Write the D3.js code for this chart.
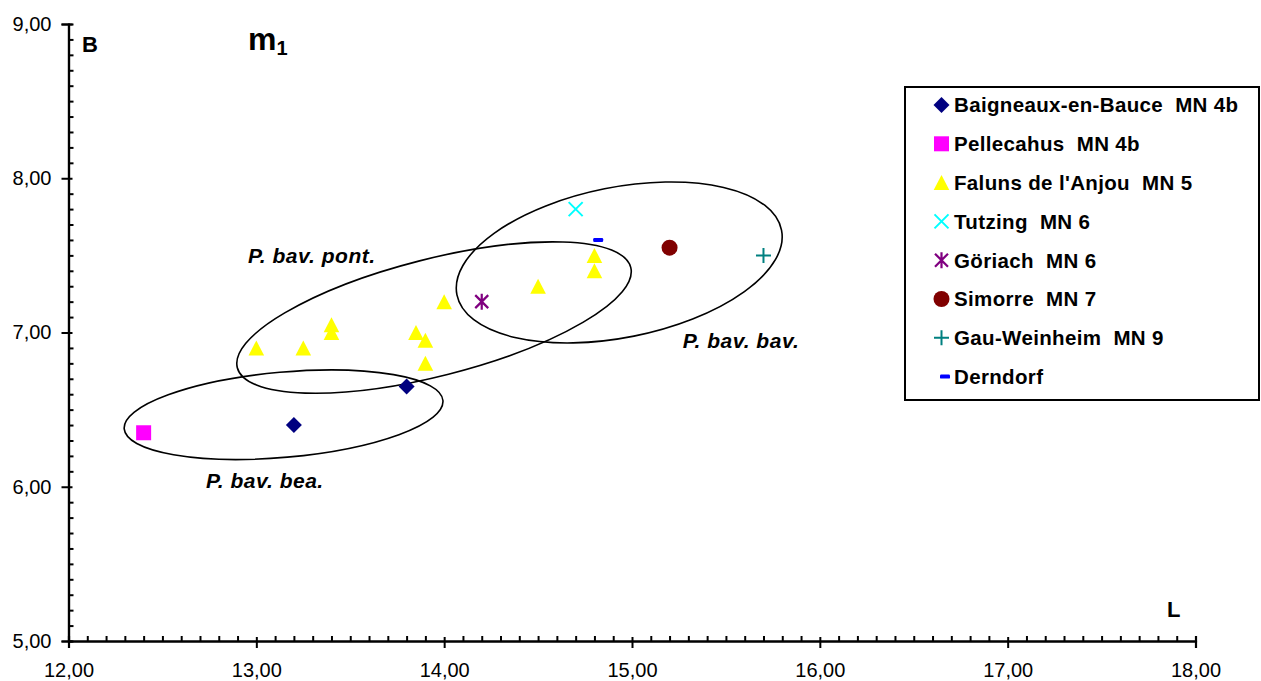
<!DOCTYPE html>
<html>
<head>
<meta charset="utf-8">
<script src="https://cdn.jsdelivr.net/npm/d3@7"></script>
<style>
  html, body { margin: 0; padding: 0; background: #fff; }
  svg { display: block; font-family: "Liberation Sans", Arial, sans-serif; }
</style>
</head>
<body>
<svg id="chart" width="1261" height="681"></svg>
<script>
// ---- data ----
const xTicks = [12, 13, 14, 15, 16, 17, 18];
const yTicks = [5, 6, 7, 8, 9];

const baigneaux = [[13.2, 6.4], [13.8, 6.65]];
const pellecahus = [[12.4, 6.35]];
const faluns = [[13.0, 6.9], [13.25, 6.9], [13.4, 7.05], [13.4, 7.0], [13.85, 7.0], [13.9, 6.95],
                [13.9, 6.8], [14.0, 7.2], [14.5, 7.3], [14.8, 7.5], [14.8, 7.4]];
const tutzing = [[14.7, 7.8]];
const goriach = [[14.2, 7.2]];
const simorre = [[15.2, 7.55]];
const gauWeinheim = [[15.7, 7.5]];
const derndorf = [[14.82, 7.6]];

const seriesNames = ["Baigneaux-en-Bauce  MN 4b", "Pellecahus  MN 4b", "Faluns de l'Anjou  MN 5",
  "Tutzing  MN 6", "Göriach  MN 6", "Simorre  MN 7", "Gau-Weinheim  MN 9", "Derndorf"];
const seriesData = [baigneaux, pellecahus, faluns, tutzing, goriach, simorre, gauWeinheim, derndorf];
const seriesSymbols = ["diamond", "square", "triangle", "x", "asterisk", "circle", "plus", "dash"];
const seriesColors = ["#000080", "#FF00FF", "#FFFF00", "#00FFFF", "#800080", "#800000", "#008080", "#0000FF"];

// group ellipses (centre in data units)
const groupNames = ["P. bav. bea.", "P. bav. pont.", "P. bav. bav."];
const groupCentres = [[13.145, 6.467], [13.946, 7.097], [14.932, 7.454]];
const groupLabelPos = [[12.732, 5.992], [12.956, 7.45], [15.27, 6.90]];

// ---- layout ----
const svg = d3.select("#chart");
const x = d3.scaleLinear().domain([12, 18]).range([68.5, 1195.5]);
const y = d3.scaleLinear().domain([5, 9]).range([641, 24]);
const fmt = v => d3.format(".2f")(v).replace(".", ",");
const nb = s => s.replace(/ /g, "\u00A0");

// ellipse geometry (pixels)
const ellRx = [160, 203, 165.5];
const ellRy = [42.6, 58.5, 75.1];
const ellRot = [-5.1, -14.3, -11.3];

const g = svg.append("g");

// ellipses
groupCentres.forEach((c, i) => {
  g.append("ellipse")
    .attr("cx", 0).attr("cy", 0)
    .attr("rx", ellRx[i]).attr("ry", ellRy[i])
    .attr("transform", `translate(${x(c[0])},${y(c[1])}) rotate(${ellRot[i]})`)
    .attr("fill", "none").attr("stroke", "#000").attr("stroke-width", 1.6);
});

// group labels
groupNames.forEach((n, i) => {
  g.append("text")
    .attr("x", x(groupLabelPos[i][0])).attr("y", y(groupLabelPos[i][1]))
    .attr("font-size", 21).attr("font-weight", "bold").attr("font-style", "italic")
    .attr("letter-spacing", 0.5)
    .text(nb(n));
});

// axes
const minorX = d3.range(120, 181).map(v => v / 10).filter(v => Math.abs(v - Math.round(v)) > 1e-9);
const minorY = d3.range(50, 91).map(v => v / 10).filter(v => Math.abs(v - Math.round(v)) > 1e-9);

const xMinorG = svg.append("g").attr("transform", `translate(0,${y(5)})`)
  .call(d3.axisBottom(x).tickValues(minorX).tickSize(-5).tickFormat(""));
const xAxisG = svg.append("g").attr("transform", `translate(0,${y(5)})`)
  .call(d3.axisBottom(x).tickValues(xTicks).tickSize(7).tickFormat(fmt));
const yMinorG = svg.append("g").attr("transform", `translate(${x(12)},0)`)
  .call(d3.axisLeft(y).tickValues(minorY).tickSize(-5).tickFormat(""));
const yAxisG = svg.append("g").attr("transform", `translate(${x(12)},0)`)
  .call(d3.axisLeft(y).tickValues(yTicks).tickSize(7).tickFormat(fmt));

[xMinorG, xAxisG, yMinorG, yAxisG].forEach(a => {
  a.selectAll(".domain").attr("stroke", "#000").attr("stroke-width", 2.2);
  a.selectAll(".tick line").attr("stroke", "#000").attr("stroke-width", 2);
  a.selectAll("text").attr("font-size", 20).attr("fill", "#000")
    .attr("font-family", "Liberation Sans, Arial, sans-serif");
});
xAxisG.selectAll(".tick line").attr("y1", -4);
xAxisG.selectAll(".tick text").attr("dy", null).attr("y", 36);
yAxisG.selectAll(".tick line").attr("x1", 4);
yAxisG.selectAll(".tick text").attr("x", -17);

// axis titles
svg.append("text").attr("x", 82).attr("y", 52).attr("font-size", 22).attr("font-weight", "bold").text("B");
svg.append("text").attr("x", 1167).attr("y", 617).attr("font-size", 22).attr("font-weight", "bold").text("L");
const mt = svg.append("text").attr("x", 248).attr("y", 50).attr("font-weight", "bold");
mt.append("tspan").attr("font-size", 32).text("m");
mt.append("tspan").attr("font-size", 20).attr("dy", 5).text("1");

// symbols
function drawSymbol(sel, type, color) {
  switch (type) {
    case "diamond":
      sel.append("path").attr("d", "M0,-8L8,0L0,8L-8,0Z").attr("fill", color); break;
    case "square":
      sel.append("rect").attr("x", -7.5).attr("y", -7.5).attr("width", 15).attr("height", 15).attr("fill", color); break;
    case "triangle":
      sel.append("path").attr("d", "M0,-7.5L7.8,7.5L-7.8,7.5Z").attr("fill", color); break;
    case "x":
      sel.append("path").attr("d", "M-7,-7L7,7M-7,7L7,-7").attr("stroke", color).attr("stroke-width", 2).attr("fill", "none"); break;
    case "asterisk":
      sel.append("path").attr("d", "M-6.5,-6.5L6.5,6.5M-6.5,6.5L6.5,-6.5M0,-8L0,8").attr("stroke", color).attr("stroke-width", 2.2).attr("fill", "none"); break;
    case "circle":
      sel.append("circle").attr("r", 8).attr("fill", color); break;
    case "plus":
      sel.append("path").attr("d", "M-7.5,0L7.5,0M0,-7.5L0,7.5").attr("stroke", color).attr("stroke-width", 2).attr("fill", "none"); break;
    case "dash":
      sel.append("rect").attr("x", -5).attr("y", -2).attr("width", 10).attr("height", 4).attr("rx", 1.2).attr("fill", color); break;
  }
}

// points
seriesData.forEach((data, i) => {
  svg.append("g").selectAll("g").data(data).join("g")
    .attr("transform", d => `translate(${x(d[0])},${y(d[1])})`)
    .each(function () { drawSymbol(d3.select(this), seriesSymbols[i], seriesColors[i]); });
});

// legend
const legend = svg.append("g");
legend.append("rect").attr("x", 905).attr("y", 87).attr("width", 354).attr("height", 313)
  .attr("fill", "#fff").attr("stroke", "#000").attr("stroke-width", 2);
seriesNames.forEach((n, i) => {
  const row = legend.append("g").attr("transform", `translate(0,${105 + i * 38.8})`);
  const m = row.append("g").attr("transform", `translate(${i === 7 ? 945 : 941.5},0)`);
  drawSymbol(m, seriesSymbols[i], seriesColors[i]);
  row.append("text").attr("x", 954).attr("y", 0).attr("dy", "0.36em")
    .attr("font-size", 20.5).attr("font-weight", "bold").attr("letter-spacing", 0.35)
    .text(nb(n));
});
</script>
</body>
</html>
